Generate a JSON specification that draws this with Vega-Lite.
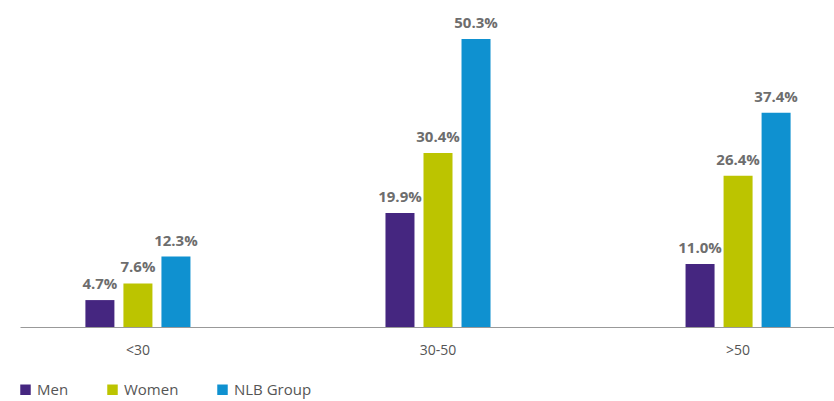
{
  "$schema": "https://vega.github.io/schema/vega-lite/v6.json",
  "width": 836,
  "height": 327,
  "autosize": {"type": "none"},
  "padding": {"left": 20, "top": 0, "right": 0, "bottom": 74},
  "background": "white",
  "data": {"values": [
    {"age": "<30", "group": "Men", "value": 4.7},
    {"age": "<30", "group": "Women", "value": 7.6},
    {"age": "<30", "group": "NLB Group", "value": 12.3},
    {"age": "30-50", "group": "Men", "value": 19.9},
    {"age": "30-50", "group": "Women", "value": 30.4},
    {"age": "30-50", "group": "NLB Group", "value": 50.3},
    {"age": ">50", "group": "Men", "value": 11.0},
    {"age": ">50", "group": "Women", "value": 26.4},
    {"age": ">50", "group": "NLB Group", "value": 37.4}
  ]},
  "transform": [{"calculate": "format(datum.value, '.1f') + '%'", "as": "label"}],
  "encoding": {
    "x": {"field": "age", "type": "nominal", "sort": ["<30", "30-50", ">50"],
      "scale": {"paddingInner": 0.62, "paddingOuter": 0.203},
      "axis": {"title": null, "labelAngle": 0, "ticks": false, "domainColor": "#999999", "domainWidth": 1,
        "labelFont": "Open Sans", "labelFontSize": 14, "labelColor": "#555555", "labelPadding": 16}},
    "xOffset": {"field": "group", "type": "nominal", "sort": ["Men", "Women", "NLB Group"],
      "scale": {"paddingInner": 0.237, "paddingOuter": 0.118}},
    "y": {"field": "value", "type": "quantitative", "scale": {"domain": [0, 57.1]}, "axis": null}
  },
  "layer": [
    {"mark": {"type": "bar"},
      "encoding": {
        "color": {"field": "group", "type": "nominal", "sort": ["Men", "Women", "NLB Group"],
          "scale": {"domain": ["Men", "Women", "NLB Group"], "range": ["#452680", "#bcc400", "#0f91d0"]},
          "legend": {"title": null, "orient": "none", "legendX": -2, "legendY": 382, "direction": "horizontal",
            "symbolType": "square", "symbolSize": 110, "symbolStrokeWidth": 0, "labelFont": "Open Sans", "labelFontSize": 15,
            "labelColor": "#555555", "columnPadding": 36, "labelOffset": 4}}
      }},
    {"mark": {"type": "text", "baseline": "alphabetic", "dy": -11, "font": "Open Sans", "fontSize": 15, "fontWeight": "bold", "color": "#6d6d6d"},
      "encoding": {"text": {"field": "label", "type": "nominal"}}}
  ],
  "config": {"view": {"stroke": null}}
}
